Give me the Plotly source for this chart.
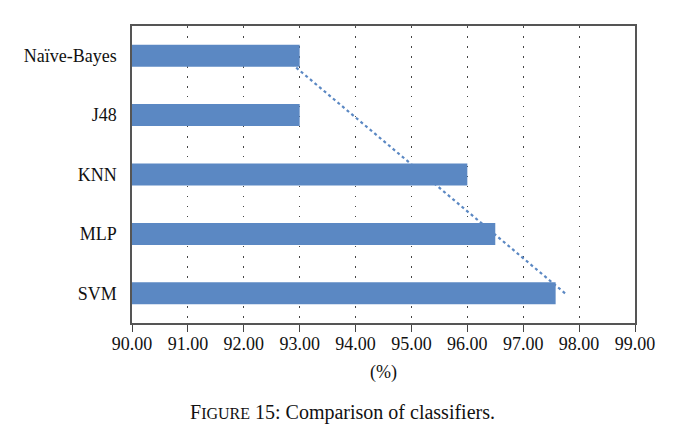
import numpy as np
import plotly.graph_objects as go

# Data (bottom to top, as in the chart)
categories = ["SVM", "MLP", "KNN", "J48", "Naïve-Bayes"]
accuracy = [97.58, 96.5, 96.0, 93.0, 93.0]
x_ticks = [90, 91, 92, 93, 94, 95, 96, 97, 98, 99]
x_tick_labels = ["90.00", "91.00", "92.00", "93.00", "94.00",
                 "95.00", "96.00", "97.00", "98.00", "99.00"]

# Linear trendline (as produced by the spreadsheet) over category index
idx = np.arange(1, len(categories) + 1)
slope, intercept = np.polyfit(idx, accuracy, 1)
trend_ends = [slope * idx[0] + intercept, slope * idx[-1] + intercept]

BAR = "#5b88c3"
FONT = "Liberation Serif"

# page body has an 8px margin; compensate so the plot lands where the reference has it
OFF = 8
L, R, T, B = 132 - OFF, 57 + OFF, 26 - OFF, 118 + OFF
W, H = 692, 441

fig = go.Figure()
# trendline on the base axis (drawn below the bars)
fig.add_trace(go.Scatter(
    x=trend_ends, y=[categories[0], categories[-1]],
    mode="lines", line=dict(color=BAR, width=2.2, dash="dot"),
    yaxis="y", showlegend=False, hoverinfo="skip"))
# bars on an overlay axis (drawn above the trendline)
fig.add_trace(go.Bar(
    x=accuracy, y=categories, orientation="h",
    marker=dict(color=BAR, line=dict(width=0)),
    yaxis="y2", showlegend=False))

plot_h = H - T - B
plot_w = W - L - R

fig.update_layout(
    width=W, height=H,
    margin=dict(l=L, r=R, t=T, b=B),
    paper_bgcolor="white", plot_bgcolor="white",
    bargap=0.63,
    font=dict(family=FONT, size=18, color="#111"),
    xaxis=dict(
        range=[90, 99], tickmode="array", tickvals=x_ticks, ticktext=x_tick_labels,
        showgrid=True, gridcolor="#444", gridwidth=1.3, griddash="1.5px,8.5px",
        showline=True, linecolor="#555", linewidth=1.5, mirror=True,
        ticks="outside", ticklen=7, tickcolor="#444", tickwidth=1,
        ticklabelstandoff=-3,
        zeroline=False, automargin=False,
        title=dict(text="(%)", font=dict(family=FONT, size=18), standoff=12),
    ),
    yaxis=dict(
        type="category", categoryorder="array", categoryarray=categories,
        range=[-0.5, len(categories) - 0.5],
        showgrid=False, showline=True, linecolor="#555", linewidth=1.5, mirror=True,
        ticks="", ticklabelstandoff=10, zeroline=False, automargin=False,
    ),
    yaxis2=dict(
        type="category", categoryorder="array", categoryarray=categories,
        range=[-0.5, len(categories) - 0.5],
        overlaying="y", showgrid=False, showline=False, showticklabels=False,
        zeroline=False,
    ),
    annotations=[dict(
        text="F<span style='font-size:16px'>IGURE</span> 15: Comparison of classifiers.",
        xref="paper", yref="paper",
        x=(342 - 132) / plot_w, xanchor="center",
        y=-(412 - 323) / plot_h, yanchor="middle",
        showarrow=False, font=dict(family=FONT, size=20, color="#111"),
    )],
)

fig.write_html("out.html")
